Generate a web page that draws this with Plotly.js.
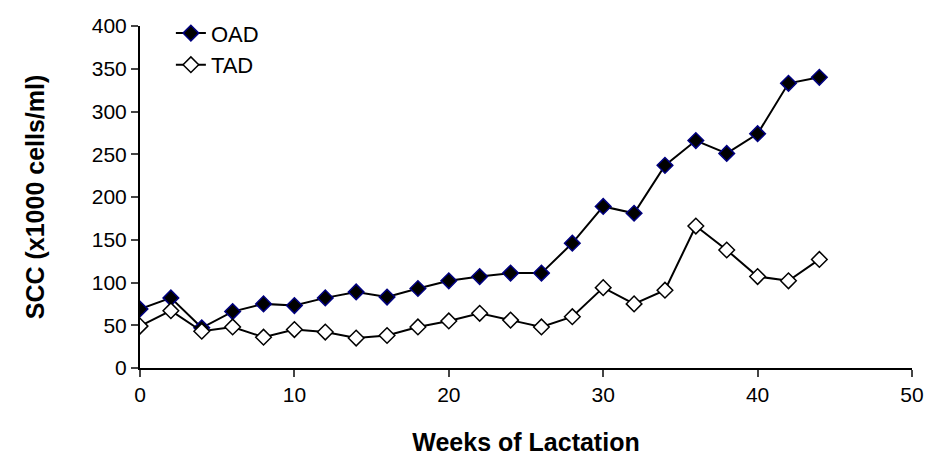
<!DOCTYPE html>
<html>
<head>
<script src="https://cdn.plot.ly/plotly-3.0.1.min.js"></script>
<style>body{margin:0;background:#fff}#graph{width:930px;height:468px}</style>
</head>
<body>
<div id="graph"></div>
<script>
const weeks = [0,2,4,6,8,10,12,14,16,18,20,22,24,26,28,30,32,34,36,38,40,42,44];
const oad = [69,82,47,66,75,73,82,89,83,93,102,107,111,111,146,189,181,237,266,251,274,333,340];
const tad = [49,67,43,48,36,45,42,35,38,48,55,64,56,48,60,94,75,91,166,138,107,102,127];

const traces = [
    {
        x: weeks, y: oad, name: 'OAD', mode: 'lines+markers',
        line: {color: '#000', width: 2},
        marker: {symbol: 'diamond', size: 12, color: '#000', line: {color: '#000080', width: 1.5}}
    },
    {
        x: weeks, y: tad, name: 'TAD', mode: 'lines+markers',
        line: {color: '#000', width: 2},
        marker: {symbol: 'diamond', size: 12, color: '#fff', line: {color: '#000', width: 1.5}}
    }
];

const layout = {
    width: 930, height: 468,
    margin: {l: 140, r: 18, t: 24, b: 100},
    paper_bgcolor: '#fff', plot_bgcolor: '#fff',
    font: {family: 'Liberation Sans', size: 21, color: '#000'},
    showlegend: true,
    legend: {x: 0.04, y: 1.04, bgcolor: 'rgba(0,0,0,0)', font: {size: 22}},
    xaxis: {
        range: [0, 50], dtick: 10, showgrid: false, zeroline: false,
        showline: true, linecolor: '#000', linewidth: 2,
        ticks: 'outside', ticklen: 7, tickwidth: 2,
        tickfont: {size: 21},
        title: {text: '<b>Weeks of Lactation</b>', standoff: 28, font: {size: 25}}
    },
    yaxis: {
        range: [0, 400], dtick: 50, showgrid: false, zeroline: false,
        showline: true, linecolor: '#000', linewidth: 2,
        ticks: 'outside', ticklen: 7, tickwidth: 2,
        tickfont: {size: 21},
        title: {text: '<b>SCC (x1000 cells/ml)</b>', standoff: 40, font: {size: 25}}
    }
};

Plotly.newPlot('graph', traces, layout, {displayModeBar: false});
</script>
</body>
</html>
